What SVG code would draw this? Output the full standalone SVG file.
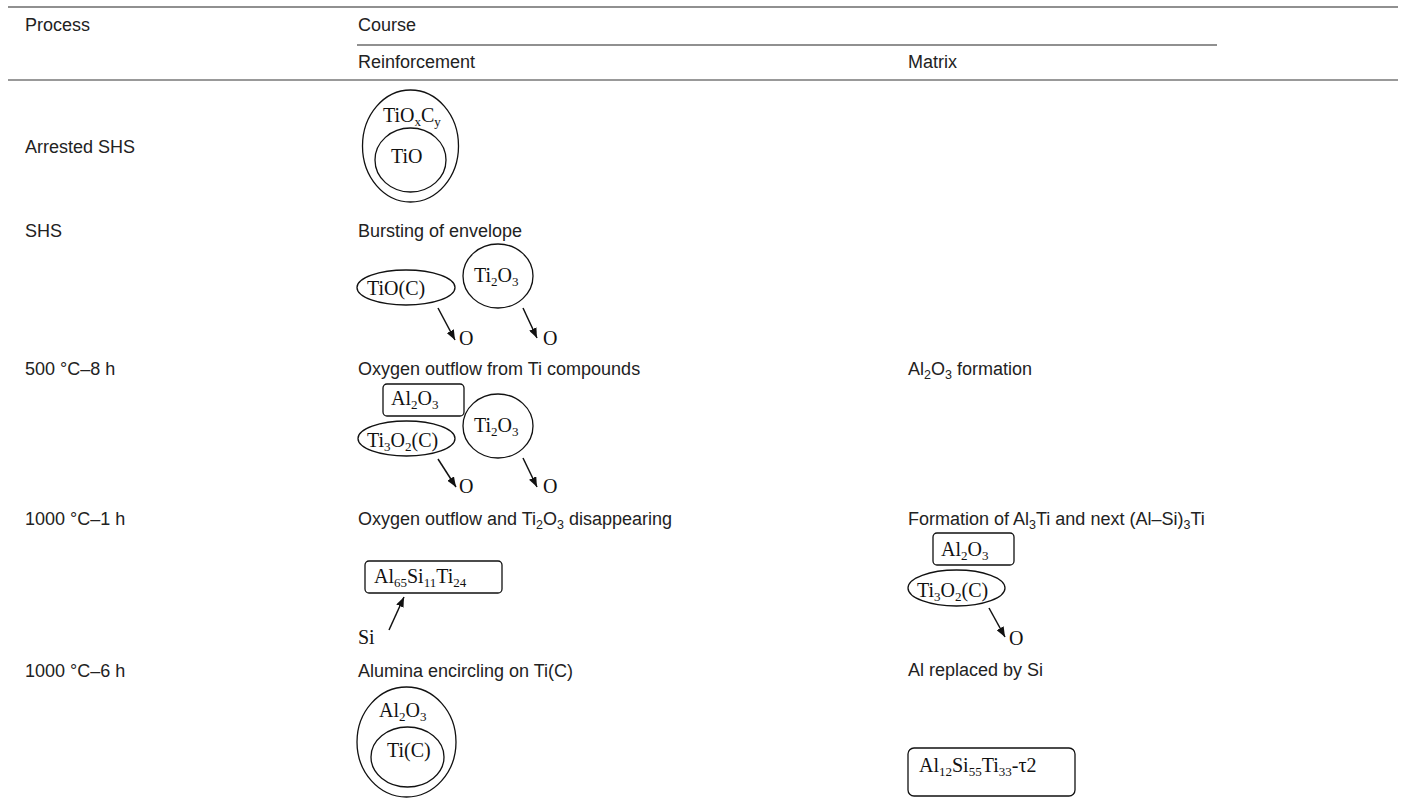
<svg xmlns="http://www.w3.org/2000/svg" width="1404" height="805" viewBox="0 0 1404 805">
<defs>
<style>
.t{font-family:"Liberation Sans",Arial,sans-serif;font-size:18px;fill:#222}
.s{font-family:"Liberation Serif","Times New Roman",serif;font-size:20px;fill:#111}
.sb{font-size:13px}
.st{font-size:12.5px}
.sh{fill:none;stroke:#111;stroke-width:1.3}
.ar{fill:none;stroke:#111;stroke-width:1.5;marker-end:url(#ah)}
</style>
<marker id="ah" viewBox="0 0 10 8" refX="10" refY="4" markerWidth="10" markerHeight="8" markerUnits="userSpaceOnUse" orient="auto">
<path d="M0,0 L10,4 L0,8 z" fill="#111"/>
</marker>
</defs>
<rect width="1404" height="805" fill="#fff"/>
<g id="table">
<line x1="8" y1="7" x2="1398" y2="7" stroke="#222" stroke-width="1.2"/>
<line x1="357" y1="45" x2="1217" y2="45" stroke="#222" stroke-width="1.2"/>
<line x1="8" y1="80" x2="1398" y2="80" stroke="#777" stroke-width="1.6"/>
<text class="t" x="25" y="31">Process</text>
<text class="t" x="358" y="31">Course</text>
<text class="t" x="358" y="68">Reinforcement</text>
<text class="t" x="908" y="68">Matrix</text>
<text class="t" x="25" y="153">Arrested SHS</text>
<text class="t" x="25" y="237">SHS</text>
<text class="t" x="25" y="375">500 °C–8 h</text>
<text class="t" x="25" y="525">1000 °C–1 h</text>
<text class="t" x="25" y="677">1000 °C–6 h</text>
<text class="t" x="358" y="237">Bursting of envelope</text>
<text class="t" x="358" y="375">Oxygen outflow from Ti compounds</text>
<text class="t" x="908" y="375">Al<tspan class="st" dy="4">2</tspan><tspan dy="-4">O</tspan><tspan class="st" dy="4">3</tspan><tspan dy="-4"> formation</tspan></text>
<text class="t" x="358" y="525">Oxygen outflow and Ti<tspan class="st" dy="4">2</tspan><tspan dy="-4">O</tspan><tspan class="st" dy="4">3</tspan><tspan dy="-4"> disappearing</tspan></text>
<text class="t" x="908" y="525">Formation of Al<tspan class="st" dy="4">3</tspan><tspan dy="-4">Ti and next (Al–Si)</tspan><tspan class="st" dy="4">3</tspan><tspan dy="-4">Ti</tspan></text>
<text class="t" x="358" y="677">Alumina encircling on Ti(C)</text>
<text class="t" x="908" y="676">Al replaced by Si</text>
</g>
<g id="n-tioxcy">
<ellipse class="sh" cx="410.5" cy="146" rx="48" ry="56"/>
<text class="s" x="383" y="122">TiO<tspan class="sb" dy="4">x</tspan><tspan dy="-4">C</tspan><tspan class="sb" dy="4">y</tspan></text>
</g>
<g id="n-tio">
<ellipse class="sh" cx="410.5" cy="160" rx="35.5" ry="32"/>
<text class="s" x="391" y="163">TiO</text>
</g>
<g id="n-tioc">
<ellipse class="sh" cx="406" cy="287.5" rx="49" ry="17.5"/>
<text class="s" x="367" y="295">TiO(C)</text>
</g>
<g id="n-ti2o3-a">
<ellipse class="sh" cx="498" cy="276" rx="35" ry="32"/>
<text class="s" x="474" y="282">Ti<tspan class="sb" dy="4">2</tspan><tspan dy="-4">O</tspan><tspan class="sb" dy="4">3</tspan></text>
</g>
<g id="n-al2o3-a">
<rect class="sh" x="383" y="384" width="81" height="32" rx="4"/>
<text class="s" x="391" y="405">Al<tspan class="sb" dy="4">2</tspan><tspan dy="-4">O</tspan><tspan class="sb" dy="4">3</tspan></text>
</g>
<g id="n-ti3o2c-a">
<ellipse class="sh" cx="406.5" cy="438.5" rx="48.5" ry="17.5"/>
<text class="s" x="367" y="447">Ti<tspan class="sb" dy="4">3</tspan><tspan dy="-4">O</tspan><tspan class="sb" dy="4">2</tspan><tspan dy="-4">(C)</tspan></text>
</g>
<g id="n-ti2o3-b">
<ellipse class="sh" cx="498" cy="426" rx="35" ry="32"/>
<text class="s" x="474" y="432">Ti<tspan class="sb" dy="4">2</tspan><tspan dy="-4">O</tspan><tspan class="sb" dy="4">3</tspan></text>
</g>
<g id="n-al65">
<rect class="sh" x="365" y="561" width="137" height="32" rx="4"/>
<text class="s" x="374" y="583">Al<tspan class="sb" dy="4">65</tspan><tspan dy="-4">Si</tspan><tspan class="sb" dy="4">11</tspan><tspan dy="-4">Ti</tspan><tspan class="sb" dy="4">24</tspan></text>
</g>
<g id="n-al2o3-b">
<rect class="sh" x="933" y="533" width="81" height="32" rx="4"/>
<text class="s" x="941" y="556">Al<tspan class="sb" dy="4">2</tspan><tspan dy="-4">O</tspan><tspan class="sb" dy="4">3</tspan></text>
</g>
<g id="n-ti3o2c-b">
<ellipse class="sh" cx="956.5" cy="588" rx="48.5" ry="18"/>
<text class="s" x="917" y="597">Ti<tspan class="sb" dy="4">3</tspan><tspan dy="-4">O</tspan><tspan class="sb" dy="4">2</tspan><tspan dy="-4">(C)</tspan></text>
</g>
<g id="n-al2o3-c">
<ellipse class="sh" cx="406.5" cy="742" rx="49.5" ry="55"/>
<text class="s" x="379" y="717">Al<tspan class="sb" dy="4">2</tspan><tspan dy="-4">O</tspan><tspan class="sb" dy="4">3</tspan></text>
</g>
<g id="n-tic">
<ellipse class="sh" cx="407.5" cy="757" rx="36.5" ry="30"/>
<text class="s" x="387" y="757">Ti(C)</text>
</g>
<g id="n-tau2">
<rect class="sh" x="908" y="748" width="167" height="48" rx="6"/>
<text class="s" x="919" y="772">Al<tspan class="sb" dy="4">12</tspan><tspan dy="-4">Si</tspan><tspan class="sb" dy="4">55</tspan><tspan dy="-4">Ti</tspan><tspan class="sb" dy="4">33</tspan><tspan dy="-4">-τ2</tspan></text>
</g>
<g id="connectors">
<line class="ar" x1="438" y1="308" x2="455" y2="340"/>
<line class="ar" x1="523" y1="308" x2="537" y2="338"/>
<line class="ar" x1="438" y1="459" x2="456" y2="487"/>
<line class="ar" x1="523" y1="458" x2="537" y2="487"/>
<line class="ar" x1="989" y1="608" x2="1005" y2="637"/>
<line class="ar" x1="389" y1="630" x2="404" y2="597"/>
</g>
<g id="labels">
<text class="s" x="459" y="345">O</text>
<text class="s" x="543" y="345">O</text>
<text class="s" x="459" y="493">O</text>
<text class="s" x="543" y="493">O</text>
<text class="s" x="1009" y="645">O</text>
<text class="s" x="358" y="644">Si</text>
</g>
</svg>
